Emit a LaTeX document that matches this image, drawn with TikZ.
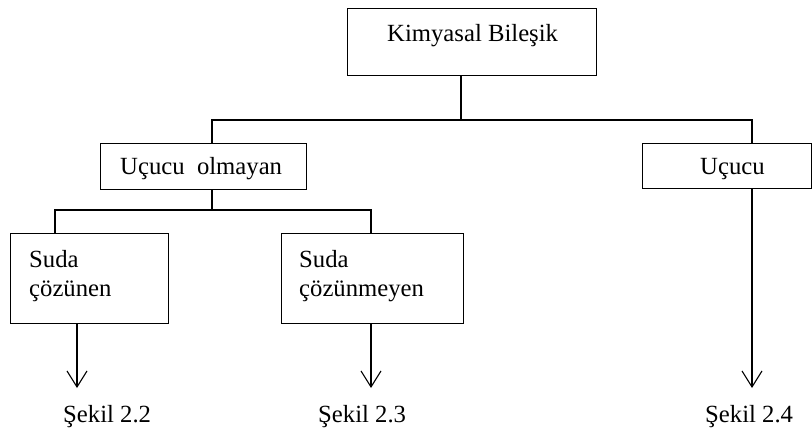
\documentclass[tikz,border=0pt]{standalone}
\usepackage{fontspec}
\setmainfont{Liberation Serif}
\usetikzlibrary{arrows.meta}
\begin{document}
\begin{tikzpicture}[x=1pt,y=-1pt,
  box/.style={draw, line width=1.3pt, inner sep=0pt, anchor=north west},
  txt/.style={inner sep=0pt, anchor=base west, font=\fontsize{24.7}{29.5}\selectfont},
  link/.style={line width=1.3pt},
  down/.style={line width=1.3pt, -{Straight Barb[length=16pt,width=20pt,line width=1.1pt]}}
]
\useasboundingbox (0,0) rectangle (812,433);

% boxes
\node[box, minimum width=249pt, minimum height=67pt] (kb) at (347,8) {};
\node[box, minimum width=206pt, minimum height=46pt] (uo) at (100,143) {};
\node[box, minimum width=169pt, minimum height=45pt] (uc) at (642,143) {};
\node[box, minimum width=158pt, minimum height=90pt] (sc) at (10,233) {};
\node[box, minimum width=182pt, minimum height=90pt] (sm) at (281,233) {};

% box texts
\node[txt] (t0) at (387,42) {Kimyasal Bileşik};
\node[txt] (t1) at (120,175) {Uçucu\ \ olmayan};
\node[txt] (t2) at (700,175) {Uçucu};
\node[txt] (t3a) at (29,267) {Suda};
\node[txt] (t3b) at (29,296) {çözünen};
\node[txt] (t4a) at (299,267) {Suda};
\node[txt] (t4b) at (299,296) {çözünmeyen};

% figure references
\node[txt] (f1) at (63,422) {Şekil 2.2};
\node[txt] (f2) at (318,422) {Şekil 2.3};
\node[txt] (f3) at (705,422) {Şekil 2.4};

% junctions
\coordinate (j0) at (461,120);
\coordinate (jl) at (212,120);
\coordinate (jr) at (752,120);
\coordinate (j1) at (212,210);
\coordinate (jll) at (55,210);
\coordinate (jlr) at (371,210);
\coordinate (e1) at (77,388);
\coordinate (e2) at (371,388);
\coordinate (e3) at (752,388);

% tree lines
\draw[link] (kb.south -| j0) -- (j0);
\draw[link] (uo.north -| jl) -- (jl) -- (jr) -- (uc.north -| jr);
\draw[link] (uo.south -| j1) -- (j1);
\draw[link] (sc.north -| jll) -- (jll) -- (jlr) -- (sm.north -| jlr);

% arrows
\draw[down] (sc.south -| e1) -- (e1);
\draw[down] (sm.south -| e2) -- (e2);
\draw[down] (uc.south -| e3) -- (e3);
\end{tikzpicture}
\end{document}
